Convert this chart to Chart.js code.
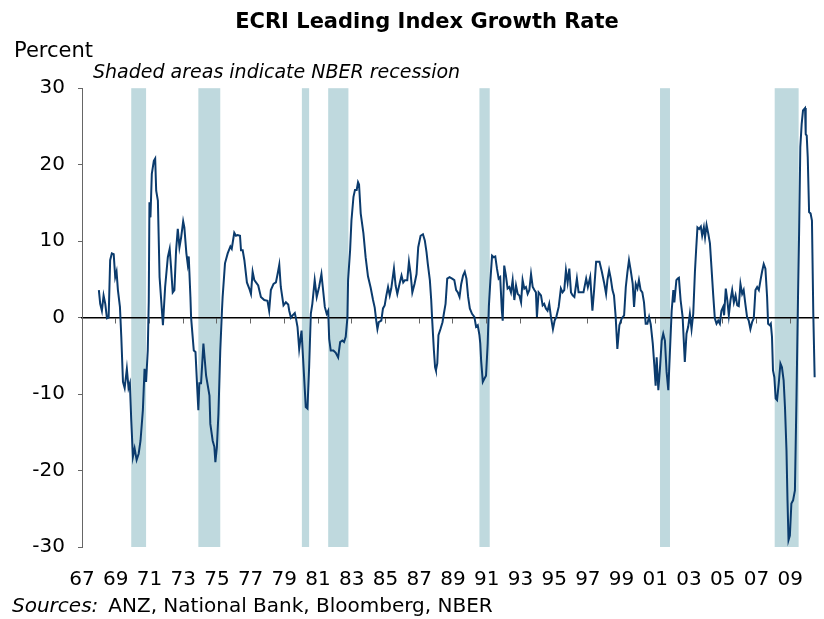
<!DOCTYPE html>
<html>
<head>
<meta charset="utf-8">
<title>ECRI Leading Index Growth Rate</title>
<script src="https://cdn.jsdelivr.net/npm/chart.js@4/dist/chart.umd.min.js"></script>
<style>
  html, body { margin: 0; padding: 0; background: #fff; }
  canvas { display: block; }
</style>
</head>
<body>
<canvas id="chart" width="824" height="619"></canvas>
<script>
// decimal year of each reading
const years = [
  1968.00, 1968.08, 1968.18, 1968.28, 1968.38, 1968.48, 1968.58, 1968.67, 1968.77, 1968.88,
  1968.97, 1969.05, 1969.13, 1969.25, 1969.33, 1969.43, 1969.53, 1969.66, 1969.76, 1969.84,
  1969.92, 1970.02, 1970.12, 1970.24, 1970.36, 1970.47, 1970.61, 1970.71, 1970.80, 1970.90,
  1970.96, 1971.00, 1971.06, 1971.14, 1971.26, 1971.34, 1971.40, 1971.50, 1971.60, 1971.80,
  1971.93, 1972.09, 1972.20, 1972.28, 1972.38, 1972.48, 1972.58, 1972.68, 1972.78, 1972.88,
  1973.00, 1973.07, 1973.19, 1973.27, 1973.33, 1973.43, 1973.47, 1973.63, 1973.73, 1973.82,
  1973.90, 1973.96, 1974.06, 1974.20, 1974.36, 1974.56, 1974.61, 1974.75, 1974.85, 1974.91,
  1975.00, 1975.09, 1975.20, 1975.30, 1975.34, 1975.48, 1975.64, 1975.80, 1975.88, 1976.03,
  1976.13, 1976.23, 1976.37, 1976.43, 1976.53, 1976.63, 1976.78, 1976.92, 1977.02, 1977.12,
  1977.22, 1977.45, 1977.61, 1977.81, 1978.00, 1978.10, 1978.20, 1978.36, 1978.50, 1978.60,
  1978.70, 1978.79, 1978.95, 1979.09, 1979.23, 1979.29, 1979.39, 1979.49, 1979.62, 1979.68,
  1979.78, 1979.88, 1980.02, 1980.14, 1980.27, 1980.37, 1980.47, 1980.57, 1980.66, 1980.80,
  1980.92, 1981.06, 1981.20, 1981.28, 1981.40, 1981.51, 1981.60, 1981.66, 1981.75, 1981.91,
  1982.05, 1982.19, 1982.31, 1982.44, 1982.54, 1982.64, 1982.74, 1982.78, 1982.90, 1982.98,
  1983.10, 1983.19, 1983.29, 1983.37, 1983.43, 1983.53, 1983.69, 1983.82, 1983.96, 1984.12,
  1984.26, 1984.36, 1984.45, 1984.52, 1984.60, 1984.75, 1984.85, 1984.95, 1985.05, 1985.15,
  1985.25, 1985.34, 1985.50, 1985.60, 1985.70, 1985.83, 1985.95, 1986.05, 1986.15, 1986.29,
  1986.39, 1986.49, 1986.59, 1986.72, 1986.84, 1986.94, 1987.08, 1987.22, 1987.33, 1987.43,
  1987.51, 1987.63, 1987.71, 1987.77, 1987.87, 1987.94, 1987.99, 1988.07, 1988.14, 1988.26,
  1988.38, 1988.46, 1988.56, 1988.66, 1988.80, 1988.95, 1989.08, 1989.19, 1989.29, 1989.39,
  1989.49, 1989.60, 1989.70, 1989.80, 1989.90, 1990.00, 1990.13, 1990.27, 1990.37, 1990.47,
  1990.57, 1990.62, 1990.67, 1990.77, 1990.86, 1990.96, 1991.06, 1991.13, 1991.22, 1991.32,
  1991.42, 1991.51, 1991.61, 1991.71, 1991.80, 1991.90, 1991.95, 1992.04, 1992.14, 1992.24,
  1992.34, 1992.44, 1992.54, 1992.64, 1992.74, 1992.84, 1992.94, 1993.04, 1993.13, 1993.23,
  1993.33, 1993.43, 1993.53, 1993.63, 1993.73, 1993.83, 1993.92, 1993.98, 1994.08, 1994.22,
  1994.32, 1994.41, 1994.51, 1994.61, 1994.71, 1994.81, 1994.93, 1995.03, 1995.13, 1995.27,
  1995.40, 1995.50, 1995.60, 1995.70, 1995.80, 1995.90, 1996.00, 1996.10, 1996.20, 1996.35,
  1996.45, 1996.59, 1996.74, 1996.90, 1997.00, 1997.14, 1997.27, 1997.37, 1997.49, 1997.69,
  1997.83, 1997.96, 1998.08, 1998.16, 1998.26, 1998.36, 1998.46, 1998.55, 1998.65, 1998.75,
  1998.87, 1999.01, 1999.15, 1999.25, 1999.35, 1999.44, 1999.54, 1999.66, 1999.74, 1999.84,
  1999.94, 2000.03, 2000.13, 2000.23, 2000.33, 2000.43, 2000.53, 2000.63, 2000.73, 2000.85,
  2000.95, 2001.02, 2001.08, 2001.18, 2001.28, 2001.38, 2001.47, 2001.57, 2001.67, 2001.77,
  2001.87, 2001.97, 2002.07, 2002.13, 2002.25, 2002.33, 2002.40, 2002.50, 2002.62, 2002.75,
  2002.85, 2002.95, 2003.05, 2003.15, 2003.25, 2003.35, 2003.42, 2003.50, 2003.60, 2003.70,
  2003.78, 2003.88, 2003.95, 2004.04, 2004.14, 2004.24, 2004.33, 2004.43, 2004.53, 2004.63,
  2004.73, 2004.83, 2004.92, 2005.02, 2005.08, 2005.18, 2005.27, 2005.36, 2005.46, 2005.56,
  2005.66, 2005.76, 2005.86, 2005.95, 2006.05, 2006.15, 2006.24, 2006.34, 2006.44, 2006.54,
  2006.64, 2006.74, 2006.84, 2006.94, 2007.04, 2007.14, 2007.24, 2007.33, 2007.43, 2007.53,
  2007.63, 2007.69, 2007.79, 2007.85, 2007.92, 2007.98, 2008.06, 2008.14, 2008.22, 2008.32,
  2008.42, 2008.51, 2008.61, 2008.69, 2008.78, 2008.84, 2008.90, 2008.98, 2009.07, 2009.17,
  2009.28, 2009.37, 2009.46, 2009.53, 2009.60, 2009.68, 2009.76, 2009.88, 2009.92, 2009.98,
  2010.04, 2010.12, 2010.21, 2010.29, 2010.37, 2010.45
];

// growth rate, percent
const growth = [
  3.6, 1.8, 0.9, 2.9, 1.8, -0.1, 0.0, 7.5, 8.4, 8.3,
  5.3, 6.0, 3.6, 1.4, -2.5, -8.4, -9.2, -6.7, -9.2, -8.6,
  -13.4, -18.2, -17.1, -18.6, -17.8, -16.1, -12.1, -6.7, -8.4, -4.3,
  2.2, 15.1, 13.1, 18.8, 20.5, 20.8, 16.6, 15.3, 5.3, -1.0,
  4.0, 7.9, 9.0, 6.6, 3.3, 3.6, 8.8, 11.6, 9.2, 10.5,
  12.6, 11.8, 8.4, 7.0, 8.0, 2.7, 0.0, -4.3, -4.5, -8.6,
  -12.1, -8.6, -8.6, -3.4, -7.6, -10.2, -13.9, -16.1, -16.9, -18.9,
  -16.9, -12.6, -4.3, 0.9, 2.7, 7.1, 8.4, 9.3, 9.0, 11.1,
  10.7, 10.8, 10.7, 8.8, 8.8, 7.5, 4.6, 3.8, 3.1, 6.0,
  4.9, 4.2, 2.7, 2.3, 2.2, 0.9, 3.6, 4.4, 4.6, 5.7,
  6.9, 4.0, 1.6, 2.0, 1.7, 0.9, 0.0, 0.3, 0.6, 0.0,
  -1.2, -4.1, -1.7, -6.5, -11.7, -11.9, -6.5, 0.5, 1.8, 4.9,
  2.7, 4.0, 5.7, 4.0, 1.4, 0.5, 0.9, -2.8, -4.3, -4.3,
  -4.6, -5.2, -3.2, -3.0, -3.2, -2.5, 0.0, 4.9, 8.8, 12.7,
  15.8, 16.7, 16.7, 17.7, 17.4, 13.6, 11.0, 7.9, 5.4, 3.9,
  2.3, 1.3, -0.4, -1.5, -0.6, -0.4, 1.2, 1.6, 2.9, 4.0,
  2.9, 3.8, 6.4, 4.2, 3.1, 4.4, 5.5, 4.6, 4.9, 4.9,
  7.3, 5.7, 3.3, 4.4, 5.7, 9.2, 10.7, 10.9, 10.1, 8.6,
  7.0, 4.9, 2.3, -0.4, -4.3, -6.5, -6.9, -6.0, -2.3, -1.5,
  -0.6, 0.5, 1.8, 5.1, 5.3, 5.1, 4.9, 3.6, 3.3, 2.7,
  4.4, 5.5, 6.0, 5.1, 2.7, 1.2, 0.5, 0.1, -1.2, -1.0,
  -2.3, -3.4, -5.6, -8.4, -8.0, -7.6, -3.4, 1.5, 4.9, 8.1,
  7.9, 8.0, 6.4, 5.1, 5.3, 0.9, -0.4, 6.8, 5.5, 3.8,
  4.0, 3.3, 4.9, 2.3, 4.2, 3.1, 2.9, 2.0, 4.9, 3.8,
  4.0, 3.1, 3.6, 5.7, 4.0, 3.6, 3.3, 0.1, 3.3, 2.9,
  1.6, 1.8, 1.2, 0.9, 1.8, 0.1, -1.5, -0.4, 0.1, 1.4,
  3.8, 3.3, 3.6, 6.2, 4.6, 6.4, 3.3, 2.9, 2.7, 5.1,
  3.3, 3.3, 3.3, 5.1, 4.0, 5.3, 0.9, 3.6, 7.3, 7.3,
  6.0, 4.6, 3.1, 4.9, 6.2, 5.1, 3.6, 2.9, 0.1, -4.1,
  -1.0, -0.1, 0.3, 4.0, 6.0, 7.5, 6.2, 4.4, 1.4, 4.4,
  3.8, 4.9, 3.6, 3.3, 2.0, -0.8, -0.8, 0.1, -0.9, -3.4,
  -6.5, -8.9, -5.2, -9.5, -6.5, -3.0, -2.1, -3.0, -7.1, -9.5,
  -4.3, 0.9, 3.6, 2.0, 4.9, 5.1, 5.2, 2.3, 0.1, -5.8,
  -2.1, -1.2, 0.5, -1.5, 0.5, 6.0, 8.8, 11.8, 11.6, 11.9,
  10.7, 11.8, 10.5, 12.1, 11.0, 9.7, 6.6, 3.1, -0.1, -0.8,
  -0.4, -0.8, 0.9, 1.4, 0.3, 3.8, 2.3, 0.3, 2.3, 3.6,
  2.0, 2.9, 1.6, 1.5, 4.4, 3.1, 3.6, 1.8, 0.1, -0.4,
  -1.5, -0.6, -0.1, 3.6, 4.0, 3.6, 4.9, 6.0, 7.0, 6.4,
  2.7, -0.8, -1.0, -0.8, -2.5, -6.9, -7.8, -10.6, -10.8, -8.6,
  -6.0, -6.5, -8.2, -11.7, -17.4, -23.9, -29.1, -28.5, -24.3, -23.9,
  -22.6, -10.8, 2.2, 11.4, 22.3, 25.3, 27.1, 27.4, 24.0, 23.8,
  21.0, 13.8, 13.6, 12.7, 0.5, -7.8
];

// NBER recessions, [start, end] in decimal years
const recessionStart = [1969.92, 1973.90, 1980.04, 1981.60, 1990.57, 2001.28, 2008.08];
const recessionEnd   = [1970.80, 1975.20, 1980.47, 1982.80, 1991.18, 2001.87, 2009.50];

const tickYears = [1967, 1969, 1971, 1973, 1975, 1977, 1979, 1981, 1983, 1985, 1987,
  1989, 1991, 1993, 1995, 1997, 1999, 2001, 2003, 2005, 2007, 2009];
const yTicks = [-30, -20, -10, 0, 10, 20, 30];

const FONT = "'DejaVu Sans', Verdana, sans-serif";
const LINE_COLOR = "#0b3b6d";
const SHADE_COLOR = "#bfd9de";

const setYearTicks = (scale) => {
  scale.ticks = tickYears.map((v) => ({ value: v }));
};

// shaded recession bands, under the axes
const recessionBands = {
  id: "recessionBands",
  beforeDraw(chart) {
    const { ctx, scales } = chart;
    const top = scales.y.getPixelForValue(yTicks[yTicks.length - 1]);
    const bottom = scales.y.getPixelForValue(yTicks[0]);
    ctx.save();
    ctx.fillStyle = SHADE_COLOR;
    recessionStart.forEach((start, i) => {
      const x1 = scales.x.getPixelForValue(start);
      const x2 = scales.x.getPixelForValue(recessionEnd[i]);
      ctx.fillRect(x1, top, x2 - x1, bottom - top);
    });
    ctx.restore();
  },
};

// unit label, note and sources
const notes = {
  id: "notes",
  afterDraw(chart) {
    const ctx = chart.ctx;
    ctx.save();
    ctx.fillStyle = "#000";
    ctx.textBaseline = "alphabetic";
    ctx.textAlign = "left";
    ctx.font = "21px " + FONT;
    ctx.fillText("Percent", 14, 57);
    ctx.font = "italic 19px " + FONT;
    ctx.fillText("Shaded areas indicate NBER recession", 93, 78);
    ctx.font = "italic 20px " + FONT;
    ctx.fillText("Sources:", 12, 612);
    const w = ctx.measureText("Sources:").width;
    ctx.font = "20px " + FONT;
    ctx.fillText("ANZ, National Bank, Bloomberg, NBER", 12 + w + 10, 612);
    ctx.restore();
  },
};

new Chart(document.getElementById("chart"), {
  type: "line",
  data: {
    datasets: [
      {
        label: "ECRI Leading Index Growth Rate",
        data: years.map((x, i) => ({ x: x, y: growth[i] })),
        borderColor: LINE_COLOR,
        borderWidth: 2,
        pointRadius: 0,
        tension: 0,
        xAxisID: "x",
        yAxisID: "y",
      },
    ],
  },
  options: {
    responsive: false,
    animation: false,
    devicePixelRatio: 1,
    layout: { padding: { left: 32, right: 2, top: 0, bottom: 27 } },
    scales: {
      x: {
        type: "linear",
        position: "bottom",
        min: 1967,
        max: 2010.67,
        afterBuildTicks: setYearTicks,
        afterFit: (scale) => { scale.height = 45; },
        grid: { display: false, drawTicks: false },
        border: { display: false },
        ticks: {
          autoSkip: false,
          maxRotation: 0,
          padding: 21,
          color: "#000",
          font: { family: FONT, size: 20 },
          callback: (v) => String(v % 100).padStart(2, "0"),
        },
      },
      // zero line with its year tick marks
      xZero: {
        type: "linear",
        position: { y: 0 },
        min: 1967,
        max: 2010.67,
        afterBuildTicks: setYearTicks,
        afterFit: (scale) => { scale.height = 0; },
        grid: { drawOnChartArea: false, drawTicks: true, tickLength: 5, color: "#666" },
        border: { color: "#000", width: 1.5 },
        ticks: { display: false },
      },
      y: {
        min: -30,
        max: 30,
        afterBuildTicks: (scale) => {
          scale.ticks = yTicks.map((v) => ({ value: v }));
        },
        afterFit: (scale) => { scale.width = 50; },
        grid: { drawOnChartArea: false, tickLength: 4, color: "#666" },
        border: { color: "#666", width: 1 },
        ticks: {
          padding: 13,
          color: "#000",
          font: { family: FONT, size: 20 },
        },
      },
    },
    plugins: {
      legend: { display: false },
      tooltip: { enabled: false },
      title: {
        display: true,
        text: "ECRI Leading Index Growth Rate",
        color: "#000",
        font: { family: FONT, size: 21, weight: "bold" },
        padding: { top: 10, bottom: 53 },
      },
    },
  },
  plugins: [recessionBands, notes],
});
</script>
</body>
</html>
